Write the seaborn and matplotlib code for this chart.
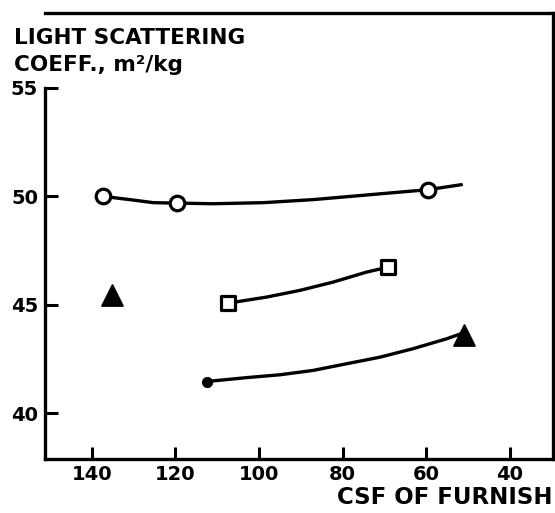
import matplotlib
matplotlib.use("Agg")
import matplotlib.pyplot as plt
import seaborn as sns

sns.set_theme(style="ticks")
plt.rcParams["font.family"] = ["DejaVu Sans"]
plt.rcParams["font.weight"] = "bold"
plt.rcParams["text.color"] = "black"
plt.rcParams["xtick.color"] = "black"
plt.rcParams["ytick.color"] = "black"

# Measured points (CSF of furnish, light scattering coefficient)
open_circle_csf = [137.3, 119.7, 59.5]
open_circle_lsc = [50.0, 49.69, 50.31]
open_circle_curve_csf = [137.3, 130.9, 125.3, 119.7, 111.0, 99.0, 87.1, 75.1, 59.5, 51.6]
open_circle_curve_lsc = [50.0, 49.85, 49.71, 49.69, 49.66, 49.71, 49.85, 50.05, 50.31, 50.54]

square_csf = [107.4, 69.1]
square_lsc = [45.08, 46.74]
square_curve_csf = [107.4, 98.2, 90.2, 82.3, 74.3, 69.1]
square_curve_lsc = [45.08, 45.36, 45.67, 46.05, 46.51, 46.74]

dot_csf = [112.5]
dot_lsc = [41.47]
dot_curve_csf = [112.5, 102.9, 95.0, 87.1, 79.0, 71.1, 63.2, 55.1, 51.3]
dot_curve_lsc = [41.47, 41.65, 41.78, 41.98, 42.29, 42.59, 42.98, 43.44, 43.7]

triangle_csf = [135.2, 51.0]
triangle_lsc = [45.45, 43.6]

x_ticks = [140, 120, 100, 80, 60, 40]
y_ticks = [40, 45, 50, 55]

fig = plt.figure(figsize=(5.55, 5.13), dpi=100)
ax = fig.add_axes([0.0811, 0.1053, 0.9153, 0.8694])

lw = 2.4
for cx, cy in [(open_circle_curve_csf, open_circle_curve_lsc),
               (square_curve_csf, square_curve_lsc),
               (dot_curve_csf, dot_curve_lsc)]:
    sns.lineplot(x=cx, y=cy, sort=False, estimator=None, color="black",
                 linewidth=lw, ax=ax)

sns.scatterplot(x=open_circle_csf, y=open_circle_lsc, marker="o", s=110,
                facecolor="white", edgecolor="black", linewidth=2.3, ax=ax, zorder=5)
sns.scatterplot(x=square_csf, y=square_lsc, marker="s", s=105,
                facecolor="white", edgecolor="black", linewidth=2.3, ax=ax, zorder=5)
sns.scatterplot(x=dot_csf, y=dot_lsc, marker="o", s=55,
                color="black", edgecolor="black", ax=ax, zorder=5)
sns.scatterplot(x=triangle_csf, y=triangle_lsc, marker="^", s=230,
                color="black", edgecolor="black", ax=ax, zorder=5)

ax.set_xlim(151.2, 29.7)
ax.set_ylim(37.9, 58.45)
ax.set_xticks(x_ticks)
ax.set_yticks(y_ticks)
ax.set_xticklabels([str(v) for v in x_ticks], fontsize=14, fontweight="bold")
ax.set_yticklabels([str(v) for v in y_ticks], fontsize=14, fontweight="bold")
ax.tick_params(axis="x", direction="in", length=9, width=2.2, pad=4,
               bottom=True, top=False, colors="black")
ax.tick_params(axis="y", direction="in", length=9, width=2.2, pad=5,
               left=True, right=False, colors="black")
ax.set_xlabel("")
ax.set_ylabel("")

for side in ["left", "right", "top", "bottom"]:
    ax.spines[side].set_visible(True)
    ax.spines[side].set_color("black")
    ax.spines[side].set_linewidth(2.4)
ax.spines["left"].set_bounds(37.9, 55)
ax.grid(False)

fig.text(0.025, 0.925, "LIGHT SCATTERING", fontsize=15.5, fontweight="bold",
         ha="left", va="center")
fig.text(0.025, 0.873, "COEFF., m²/kg", fontsize=15.5, fontweight="bold",
         ha="left", va="center")
fig.text(0.995, 0.031, "CSF OF FURNISH", fontsize=16.5, fontweight="bold",
         ha="right", va="center")

fig.savefig("out.png", dpi=100, facecolor="white")
